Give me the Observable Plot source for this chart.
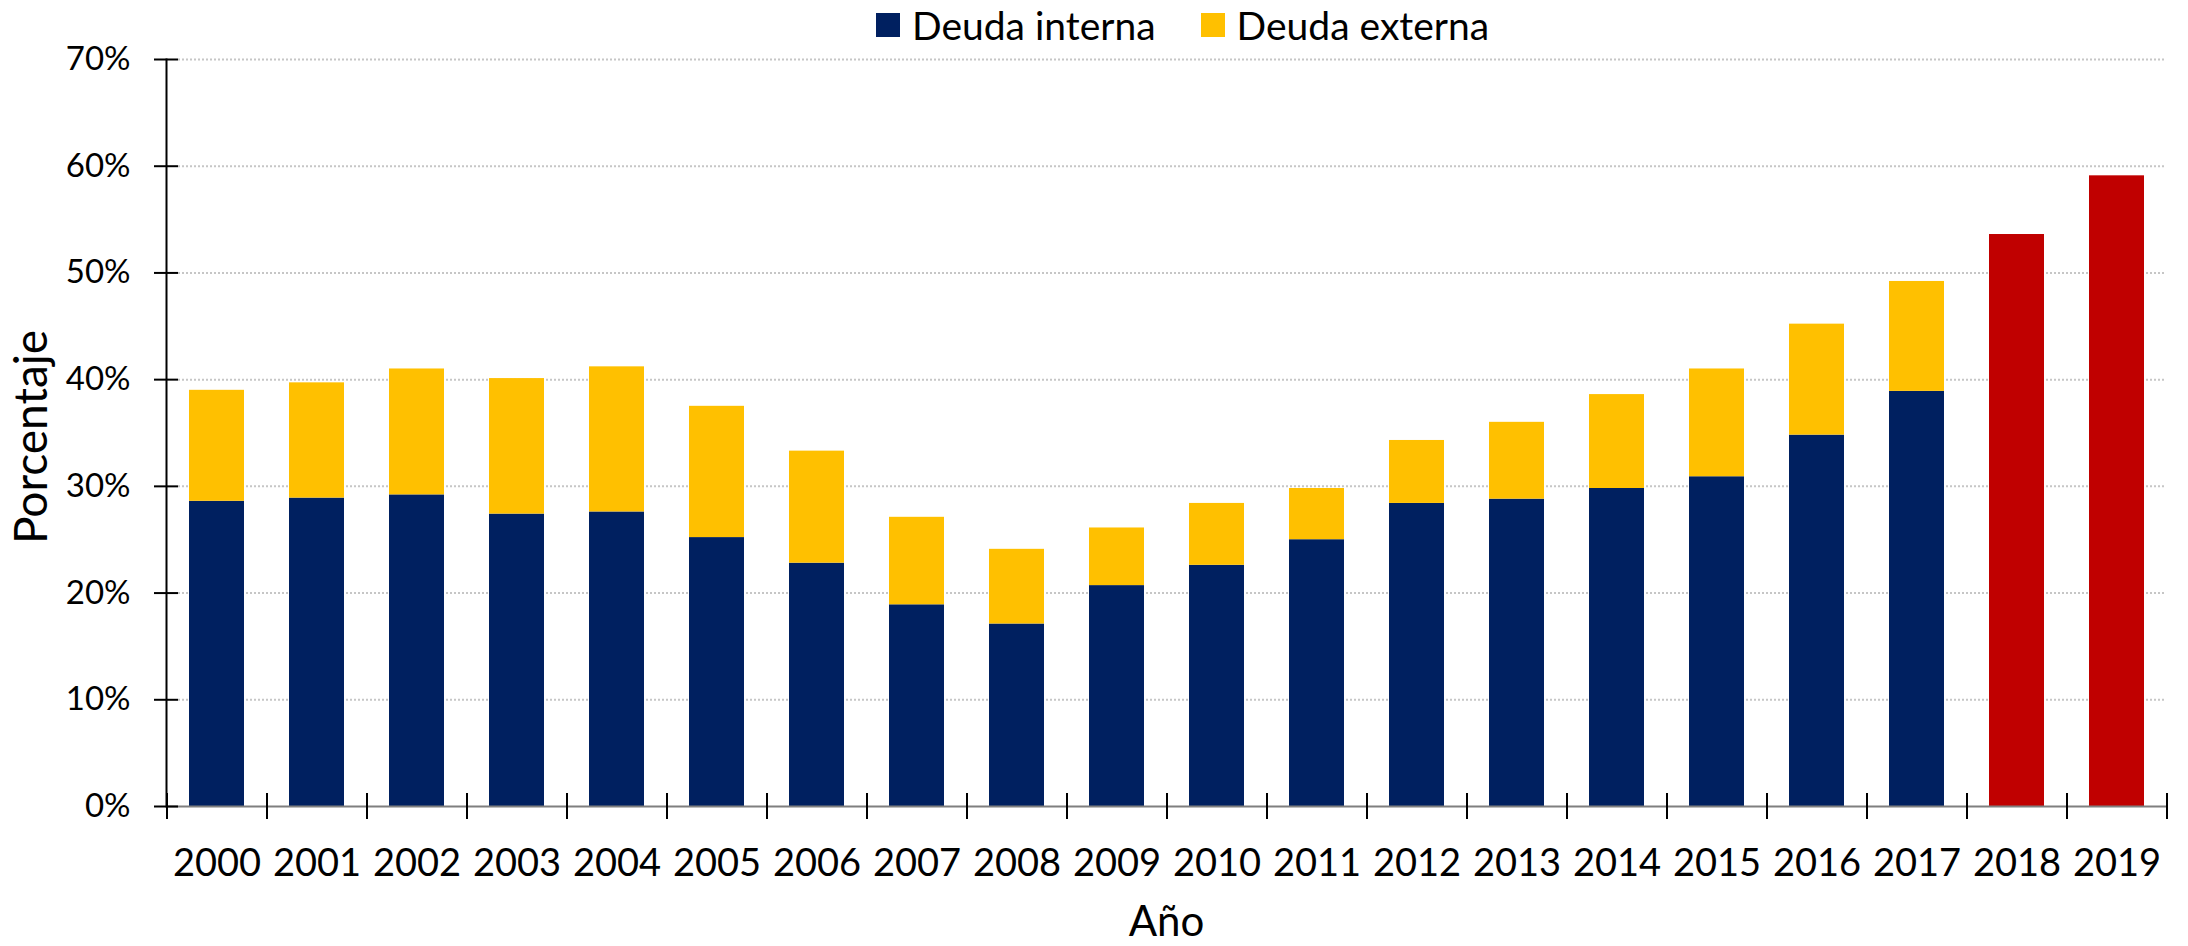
<!DOCTYPE html>
<html>
<head>
<meta charset="utf-8">
<script src="https://cdn.jsdelivr.net/npm/d3@7"></script>
<script src="https://cdn.jsdelivr.net/npm/@observablehq/plot@0.6"></script>
<style>
  body { margin: 0; background: #fff; font-family: Lato, "Open Sans", sans-serif; }
  #wrap { position: relative; width: 2188px; height: 946px; }
  #legend { position: absolute; left: 876px; top: 0; height: 50px; display: flex; align-items: center; font-size: 39px; color: #000; white-space: nowrap; }
  .item { display: flex; align-items: center; margin-right: 45px; }
  .sw { width: 24px; height: 24px; margin-right: 12px; }
</style>
</head>
<body>
<div id="wrap">
  <div id="chart"></div>
  <div id="legend"></div>
</div>
<script>
// ---- data ----
const years = ["2000","2001","2002","2003","2004","2005","2006","2007","2008","2009",
               "2010","2011","2012","2013","2014","2015","2016","2017","2018","2019"];
const histYears = years.slice(0, 18);
const deudaInterna = [28.6, 28.9, 29.2, 27.4, 27.6, 25.2, 22.8, 18.9, 17.1, 20.7,
                      22.6, 25.0, 28.4, 28.8, 29.8, 30.9, 34.8, 38.9];
const deudaExterna = [10.4, 10.8, 11.8, 12.7, 13.6, 12.3, 10.5, 8.2, 7.0, 5.4,
                      5.8, 4.8, 5.9, 7.2, 8.8, 10.1, 10.4, 10.3];
const projYears = ["2018", "2019"];
const deudaTotal = [53.6, 59.1];
const seriesNames = ["Deuda interna", "Deuda externa", "Total"];
const seriesColors = ["#002060", "#FFC000", "#C00000"];
const yTicks = [0, 10, 20, 30, 40, 50, 60, 70];
const xTitle = "Año";
const yTitle = "Porcentaje";

// ---- table ----
const rows = [];
histYears.forEach((y, i) => {
  rows.push({year: y, serie: seriesNames[0], value: deudaInterna[i]});
  rows.push({year: y, serie: seriesNames[1], value: deudaExterna[i]});
});
projYears.forEach((y, i) => rows.push({year: y, serie: seriesNames[2], value: deudaTotal[i]}));

const chart = Plot.plot({
  width: 2188,
  height: 946,
  marginLeft: 166,
  marginRight: 22,
  marginTop: 59,
  marginBottom: 140,
  style: {fontFamily: "Lato, 'Open Sans', sans-serif", color: "#000", background: "#fff"},
  x: {domain: years, paddingInner: 0.45, paddingOuter: 0.225, axis: null},
  y: {domain: [0, 70], axis: null},
  color: {domain: seriesNames, range: seriesColors},
  marks: [
    Plot.gridY(yTicks.slice(1), {stroke: "#c6c6c6", strokeOpacity: 1, strokeWidth: 2, strokeDasharray: "2,2", insetLeft: 12}),
    Plot.barY(rows, {x: "year", y: "value", fill: "serie"}),
    Plot.ruleY([0], {stroke: "#7f7f7f", strokeWidth: 2}),
    Plot.frame({anchor: "left", stroke: "#000", strokeWidth: 2}),
    Plot.axisY({ticks: yTicks, tickSize: 24, dx: 12, tickPadding: 24, tickFormat: d => d + "%", fontSize: 33, label: null, strokeWidth: 2}),
    Plot.axisX({ticks: years, tickSize: 26, dx: -50, dy: -13, tickFormat: () => "", label: null, strokeWidth: 2}),
    Plot.axisX({ticks: years.slice(-1), tickSize: 26, dx: 50, dy: -13, tickFormat: () => "", label: null, strokeWidth: 2}),
    Plot.axisX({ticks: years, tickSize: 0, tickPadding: 43, fontSize: 38, label: null}),
    Plot.text([xTitle], {frameAnchor: "bottom", textAnchor: "middle", lineAnchor: "middle", dy: 116, fontSize: 42}),
    Plot.text([yTitle], {frameAnchor: "left", textAnchor: "middle", lineAnchor: "middle", rotate: -90, dx: -134, dy: 4, fontSize: 46})
  ]
});
document.getElementById("chart").appendChild(chart);

// ---- legend ----
const legend = document.getElementById("legend");
seriesNames.slice(0, 2).forEach((name, i) => {
  const item = document.createElement("div");
  item.className = "item";
  const sw = document.createElement("span");
  sw.className = "sw";
  sw.style.background = seriesColors[i];
  const label = document.createElement("span");
  label.textContent = name;
  item.appendChild(sw);
  item.appendChild(label);
  legend.appendChild(item);
});
</script>
</body>
</html>
